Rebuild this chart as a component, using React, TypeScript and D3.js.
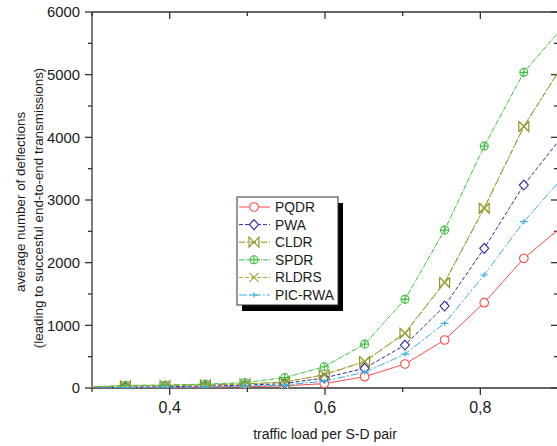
import React, { useRef, useEffect } from 'react'
import * as d3 from 'd3'

// traffic load per S-D pair (first and last points fall outside the visible frame)
const loads = [0.292, 0.343, 0.394, 0.446, 0.497, 0.548, 0.599, 0.651, 0.703, 0.754, 0.805, 0.856, 0.907]

const pqdr = [0, 5, 8, 12, 20, 35, 70, 180, 383, 766, 1361, 2069, 2595]
const pwa = [2, 15, 20, 30, 45, 70, 160, 315, 686, 1308, 2229, 3239, 4040]
const cldr = [10, 35, 40, 50, 65, 95, 210, 420, 872, 1680, 2867, 4170, 5170]
const spdr = [15, 42, 48, 62, 85, 165, 340, 700, 1415, 2520, 3860, 5037, 5770]
const rldrs = [10, 33, 38, 48, 63, 92, 215, 425, 880, 1690, 2880, 4180, 5180]
const picRwa = [2, 8, 10, 15, 30, 45, 110, 250, 542, 1032, 1803, 2654, 3373]

const seriesNames = ['PQDR', 'PWA', 'CLDR', 'SPDR', 'RLDRS', 'PIC-RWA']
const seriesValues = [pqdr, pwa, cldr, spdr, rldrs, picRwa]

const xTickValues = [0.4, 0.6, 0.8]
const xMinorTicks = [0.3, 0.5, 0.7, 0.9]
const xTickLabels = ['0,4', '0,6', '0,8']
const yTickValues = [0, 1000, 2000, 3000, 4000, 5000, 6000]
const yMinorTicks = [500, 1500, 2500, 3500, 4500, 5500]

const styles = [
  { color: '#ff4a4a', dash: null, marker: 'circle' },
  { color: '#2d2d9c', dash: '4,2', marker: 'diamond' },
  { color: '#8c8c1e', dash: '6,2,1,2', marker: 'bowtie' },
  { color: '#3cbf3c', dash: '5,1,1,1', marker: 'circleplus' },
  { color: '#a3a33a', dash: '4,2', marker: 'cross' },
  { color: '#3aaee0', dash: '8,2,2,2', marker: 'plus' },
]

const FONT = '"Liberation Sans", Arial, sans-serif'

function drawMarker(g: any, kind: string, color: string) {
  if (kind === 'circle') {
    g.append('circle').attr('r', 4.3).attr('fill', 'white').attr('stroke', color).attr('stroke-width', 1.1)
  } else if (kind === 'diamond') {
    g.append('path').attr('d', 'M0,-5 L4.5,0 L0,5 L-4.5,0 Z').attr('fill', 'white').attr('stroke', color).attr('stroke-width', 1.1)
  } else if (kind === 'bowtie') {
    g.append('path').attr('d', 'M-5,-5 L5,5 L5,-5 L-5,5 Z').attr('fill', 'none').attr('stroke', color).attr('stroke-width', 1.1)
  } else if (kind === 'circleplus') {
    g.append('circle').attr('r', 4).attr('fill', 'none').attr('stroke', color).attr('stroke-width', 1.1)
    g.append('path').attr('d', 'M-4,0 L4,0 M0,-4 L0,4').attr('stroke', color).attr('stroke-width', 1.1)
  } else if (kind === 'cross') {
    g.append('path').attr('d', 'M-4.5,-4.5 L4.5,4.5 M-4.5,4.5 L4.5,-4.5').attr('stroke', color).attr('stroke-width', 1.1)
  } else if (kind === 'plus') {
    g.append('path').attr('d', 'M-4,0 L4,0 M0,-2.5 L0,2.5').attr('stroke', color).attr('stroke-width', 1.2)
  }
}

function App() {
  const svgRef = useRef(null)

  useEffect(() => {
    const width = 557
    const height = 446
    const left = 92, right = 558, top = 12, bottom = 388

    const svg = d3.select(svgRef.current)
    svg.selectAll('*').remove()
    svg.attr('width', width).attr('height', height)

    const x = d3.scaleLinear().domain([0.3, 0.9]).range([left, right])
    const y = d3.scaleLinear().domain([0, 6000]).range([bottom, top])

    svg.append('rect').attr('width', width).attr('height', height).attr('fill', 'white')

    svg.append('defs').append('clipPath').attr('id', 'plotclip')
      .append('rect').attr('x', left).attr('y', top - 2).attr('width', right - left).attr('height', bottom - top + 2)

    const axisColor = '#333'
    const axes = svg.append('g').attr('stroke', axisColor).attr('stroke-width', 1.3).attr('fill', 'none')
    axes.append('line').attr('x1', left).attr('x2', left).attr('y1', top).attr('y2', bottom)
    axes.append('line').attr('x1', left).attr('x2', right + 2).attr('y1', top).attr('y2', top)
    axes.append('line').attr('x1', left).attr('x2', right + 2).attr('y1', bottom).attr('y2', bottom)
    axes.append('line').attr('x1', right).attr('x2', right).attr('y1', top).attr('y2', bottom)

    // bottom & top ticks
    xTickValues.forEach(v => {
      axes.append('line').attr('x1', x(v)).attr('x2', x(v)).attr('y1', bottom).attr('y2', bottom + 7)
      axes.append('line').attr('x1', x(v)).attr('x2', x(v)).attr('y1', top).attr('y2', top + 7)
    })
    xMinorTicks.forEach(v => {
      axes.append('line').attr('x1', x(v)).attr('x2', x(v)).attr('y1', bottom).attr('y2', bottom + 4)
      axes.append('line').attr('x1', x(v)).attr('x2', x(v)).attr('y1', top).attr('y2', top + 4)
    })
    // left & right ticks
    yTickValues.forEach(v => {
      axes.append('line').attr('x1', left - 7).attr('x2', left).attr('y1', y(v)).attr('y2', y(v))
      axes.append('line').attr('x1', right - 7).attr('x2', right).attr('y1', y(v)).attr('y2', y(v))
    })
    yMinorTicks.forEach(v => {
      axes.append('line').attr('x1', left - 4).attr('x2', left).attr('y1', y(v)).attr('y2', y(v))
      axes.append('line').attr('x1', right - 4).attr('x2', right).attr('y1', y(v)).attr('y2', y(v))
    })

    const labels = svg.append('g').attr('font-family', FONT).attr('fill', '#1a1a1a')
    yTickValues.forEach(v => {
      labels.append('text').attr('x', 80).attr('y', y(v)).attr('dy', '0.36em')
        .attr('text-anchor', 'end').attr('font-size', 14.8).text(String(v))
    })
    xTickValues.forEach((v, i) => {
      labels.append('text').attr('x', x(v)).attr('y', 413)
        .attr('text-anchor', 'middle').attr('font-size', 16).text(xTickLabels[i])
    })
    labels.append('text').attr('x', 325).attr('y', 439).attr('text-anchor', 'middle')
      .attr('font-size', 14).text('traffic load per S-D pair')
    labels.append('text').attr('transform', 'translate(25,202) rotate(-90)').attr('text-anchor', 'middle')
      .attr('font-size', 13.4).text('average number of deflections')
    labels.append('text').attr('transform', 'translate(43,208) rotate(-90)').attr('text-anchor', 'middle')
      .attr('font-size', 13.4).text('(leading to succesful end-to-end transmissions)')

    const plot = svg.append('g').attr('clip-path', 'url(#plotclip)')
    const line = d3.line<number>().x((d, i) => x(loads[i])).y(d => y(d))

    seriesValues.forEach((vals, si) => {
      const st = styles[si]
      plot.append('path').datum(vals).attr('d', line)
        .attr('fill', 'none').attr('stroke', st.color).attr('stroke-width', 1)
        .attr('stroke-dasharray', st.dash)
      vals.forEach((v, i) => {
        if (loads[i] < 0.3 || loads[i] > 0.9) return
        const g = plot.append('g').attr('transform', `translate(${x(loads[i])},${y(v)})`)
        drawMarker(g, st.marker, st.color)
      })
    })

    // legend
    const lx = 237, ly = 197, lw = 101, lh = 108
    const legend = svg.append('g').attr('font-family', FONT)
    legend.append('rect').attr('x', lx + 5).attr('y', ly + 6).attr('width', lw).attr('height', lh).attr('fill', 'black')
    legend.append('rect').attr('x', lx).attr('y', ly).attr('width', lw).attr('height', lh)
      .attr('fill', 'white').attr('stroke', '#333').attr('stroke-width', 1)
    seriesNames.forEach((name, i) => {
      const st = styles[i]
      const ry = ly + 10 + i * 17.6
      legend.append('line').attr('x1', lx + 2).attr('x2', lx + 33).attr('y1', ry).attr('y2', ry)
        .attr('stroke', st.color).attr('stroke-width', 1).attr('stroke-dasharray', st.dash)
      const g = legend.append('g').attr('transform', `translate(${lx + 17},${ry})`)
      drawMarker(g, st.marker, st.color)
      legend.append('text').attr('x', lx + 38).attr('y', ry).attr('dy', '0.36em')
        .attr('font-size', 13.8).attr('fill', '#1a1a1a').text(name)
    })
  }, [])

  return (
    <svg ref={svgRef} style={{ position: 'absolute', left: 0, top: 0, display: 'block' }}></svg>
  )
}

export default App
